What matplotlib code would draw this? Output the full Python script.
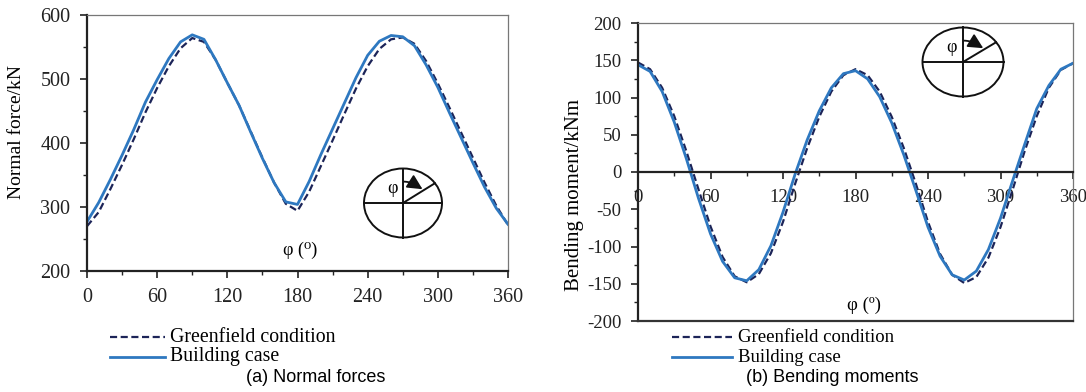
#! usr/bin/env python3

#	import modules
import numpy as np
import matplotlib
matplotlib.use("Agg")
import matplotlib.pyplot as plt
from matplotlib.patches import Ellipse
from matplotlib.lines import Line2D
from matplotlib.ticker import MultipleLocator

#	angle around the ring (degrees)
phi = [0, 10, 20, 30, 40, 50, 60, 70, 80, 90, 100, 110, 120, 130, 140, 150, 160, 170, 180,
       190, 200, 210, 220, 230, 240, 250, 260, 270, 280, 290, 300, 310, 320, 330, 340, 350, 360]

#	normal forces (kN)
normal_building = [277, 307, 343, 381, 421, 464, 499, 532, 558, 569, 562, 530, 494, 459, 417, 376, 338, 308, 304,
                   340, 382, 422, 462, 502, 537, 559, 568, 566, 552, 522, 487, 447, 408, 369, 331, 298, 273]
normal_greenfield = [270, 292, 328, 366, 406, 448, 486, 520, 548, 564, 558, 530, 494, 459, 418, 377, 338, 305, 294,
                     324, 364, 404, 445, 485, 520, 547, 562, 565, 555, 528, 493, 455, 416, 377, 338, 302, 272]

#	bending moments (kNm)
moment_building = [144, 135, 108, 67, 18, -35, -83, -120, -142, -146, -131, -99, -54, -3, 43, 82, 113, 132, 136,
                   125, 101, 66, 23, -25, -74, -113, -138, -145, -133, -104, -62, -12, 37, 85, 116, 138, 146]
moment_greenfield = [147, 138, 113, 75, 28, -23, -73, -114, -140, -148, -137, -109, -67, -16, 32, 74, 108, 130, 138,
                     130, 108, 74, 32, -16, -67, -110, -138, -149, -141, -115, -74, -24, 28, 75, 113, 137, 146]

legend_labels = ["Greenfield condition", "Building case"]
captions = ["(a) Normal forces", "(b) Bending moments"]

W, H = 1086, 392
serif = ["Liberation Serif", "DejaVu Serif"]
c_build = "#2e78c0"
c_green = "#1c2458"
dash = (0, (3.2, 1.6))

plt.rcParams['font.family'] = serif
plt.rcParams['axes.unicode_minus'] = False

fig = plt.figure(figsize=(W / 100, H / 100), dpi=100)


def fx(px):
    return px / W


def fy(py):
    return 1 - py / H


def style_axes(ax, fs):
    for s in ['left', 'bottom']:
        ax.spines[s].set_linewidth(1.6)
        ax.spines[s].set_color('#222222')
    for s in ['top', 'right']:
        ax.spines[s].set_linewidth(0.9)
        ax.spines[s].set_color('#777777')
    ax.tick_params(which='major', direction='out', length=5, width=1.2, pad=7, labelsize=fs, colors='#222222')
    ax.tick_params(which='minor', direction='out', length=3, width=1.0, colors='#222222')
    ax.tick_params(axis='y', which='both', right=False)
    ax.tick_params(axis='x', which='both', top=False)


def ring_inset(cx, cy, w, h):
    #	small ring sketch with the angle arrow
    pad = 1.12
    iax = fig.add_axes([fx(cx - w * pad / 2), fy(cy + h * pad / 2), w * pad / W, h * pad / H])
    iax.set_xlim(-pad, pad)
    iax.set_ylim(-pad, pad)
    iax.axis('off')
    iax.add_patch(Ellipse((0, 0), 2, 2, fill=False, lw=1.4, color='#111111'))
    iax.plot([0, 0], [-1, 1], color='#111111', lw=1.4)
    iax.plot([-1, 1], [0, 0], color='#111111', lw=1.4)
    iax.plot([0, np.cos(np.radians(35))], [0, np.sin(np.radians(35))], color='#111111', lw=1.4)
    #	curved arrow from the vertical towards the radial line
    t = np.linspace(np.radians(88), np.radians(62), 20)
    iax.plot(0.62 * np.cos(t), 0.62 * np.sin(t), color='#111111', lw=1.3)
    iax.annotate("", xy=(0.5, 0.4), xytext=(0.29, 0.55),
                 arrowprops=dict(arrowstyle='-|>,head_length=0.9,head_width=0.45', color='#111111',
                                 lw=1.3, mutation_scale=10, shrinkA=0, shrinkB=0))
    iax.text(-0.28, 0.42, "φ", ha='center', va='center', fontsize=13)


def legend_block(x0, x1, xt, y0, fs):
    #	legend drawn under the panel
    rows = [(c_green, 1.6, dash), (c_build, 2.0, '-')]
    for i, (col, lw, ls) in enumerate(rows):
        y = fy(y0 + 20 * i)
        fig.add_artist(Line2D([fx(x0), fx(x1)], [y, y], color=col, lw=lw, ls=ls))
        fig.text(fx(xt), y, legend_labels[i], ha='left', va='center', fontsize=fs)


#	(a) normal forces
ax1 = fig.add_axes([fx(87), fy(271), (508 - 87) / W, (271 - 15) / H])
ax1.plot(phi, normal_greenfield, color=c_green, lw=1.6, ls=dash)
ax1.plot(phi, normal_building, color=c_build, lw=2.0)
ax1.set_xlim(0, 360)
ax1.set_ylim(200, 600)
ax1.xaxis.set_major_locator(MultipleLocator(60))
ax1.xaxis.set_minor_locator(MultipleLocator(30))
ax1.yaxis.set_major_locator(MultipleLocator(100))
ax1.yaxis.set_minor_locator(MultipleLocator(50))
style_axes(ax1, 14.5)
fig.text(fx(16.5), fy(132), "Normal force/kN", rotation=90, ha='center', va='center', fontsize=14)
ax1.text((300 - 87) / 421, (271 - 250) / 256, "φ (⁰)", transform=ax1.transAxes,
         ha='center', va='center', fontsize=13)
ring_inset(403, 203, 78, 69)
legend_block(110, 165, 170, 337, 14.3)

#	(b) bending moments
ax2 = fig.add_axes([fx(638), fy(321), 435 / W, (321 - 23) / H])
ax2.plot(phi, moment_greenfield, color=c_green, lw=1.6, ls=dash)
ax2.plot(phi, moment_building, color=c_build, lw=2.0)
ax2.set_xlim(0, 360)
ax2.set_ylim(-200, 200)
ax2.xaxis.set_major_locator(MultipleLocator(60))
ax2.xaxis.set_minor_locator(MultipleLocator(30))
ax2.yaxis.set_major_locator(MultipleLocator(50))
ax2.yaxis.set_minor_locator(MultipleLocator(25))
style_axes(ax2, 13.5)
ax2.spines['bottom'].set_position(('data', 0))
ax2.axhline(-200, color='#333333', lw=1.6, clip_on=False, zorder=3)
fig.text(fx(575), fy(195), "Bending moment/kNm", rotation=90, ha='center', va='center', fontsize=15)
ax2.text((864 - 638) / 435, (321 - 305) / 298, "φ (º)", transform=ax2.transAxes,
         ha='center', va='center', fontsize=13.5)
ring_inset(963, 62, 81, 69)
legend_block(672, 732, 738, 337, 13.5)

#	captions below each panel
sans = ["Liberation Sans Narrow", "Liberation Sans", "DejaVu Sans"]
fig.text(fx(316), fy(378), captions[0], ha='center', va='center', fontsize=13, family=sans)
fig.text(fx(832), fy(378), captions[1], ha='center', va='center', fontsize=13, family=sans)

fig.savefig("out.png", dpi=100)
plt.close()
